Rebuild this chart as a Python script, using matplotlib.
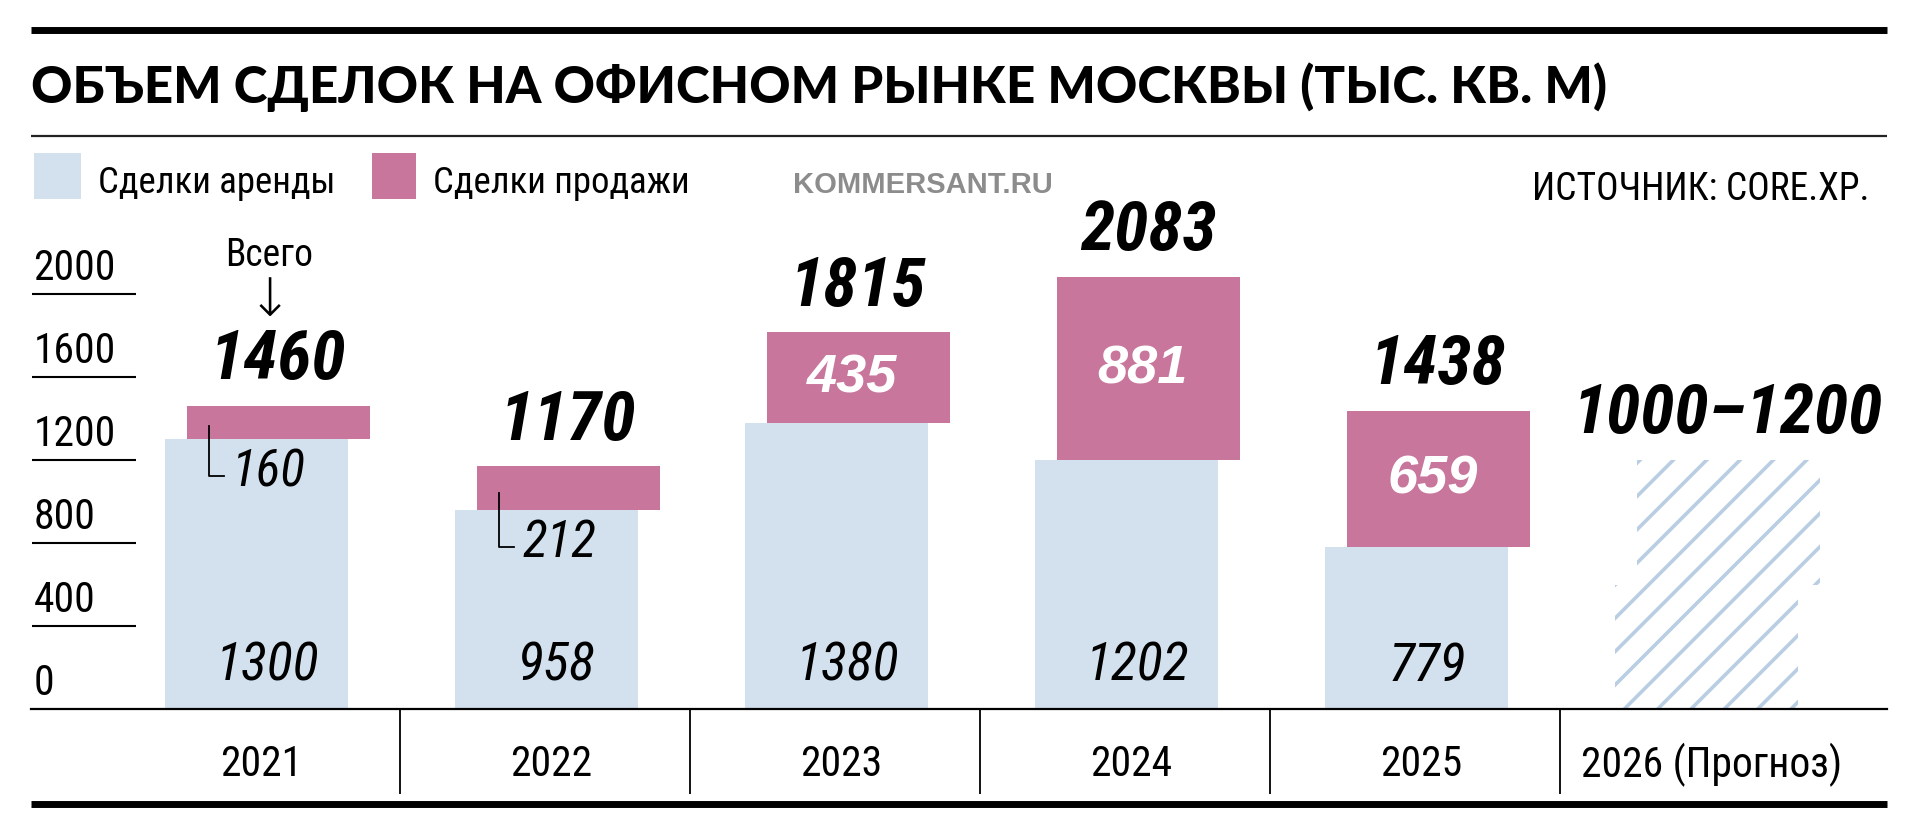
import matplotlib
matplotlib.use("Agg")
import matplotlib.pyplot as plt
from matplotlib import font_manager as fm
from matplotlib.lines import Line2D
from matplotlib.patches import Rectangle

# данные
years = ["2021", "2022", "2023", "2024", "2025", "2026 (Прогноз)"]
lease = [1300, 958, 1380, 1202, 779]
sale = [160, 212, 435, 881, 659]
totals = [1460, 1170, 1815, 2083, 1438]
forecast_split = 600
forecast_top = 1200
forecast_label = "1000–1200"
yticks = [0, 400, 800, 1200, 1600, 2000]

BLUE = "#d3e1ee"
PINK = "#c8769c"
HATCH = "#b9cde3"

avail = {f.name for f in fm.fontManager.ttflist}


def first(*names):
    for n in names:
        if n in avail:
            return n
    return "DejaVu Sans"


NARROW = first("Roboto Condensed", "Liberation Sans Narrow", "Open Sans Condensed", "Liberation Sans")
SANS = first("Liberation Sans", "Roboto", "DejaVu Sans")
HEAVY = first("Lato", "Inter", "Liberation Sans", "DejaVu Sans")

plt.rcParams["hatch.linewidth"] = 2.6

W, H = 1920, 837
fig = plt.figure(figsize=(W / 100, H / 100), dpi=100)


def fx(x):
    return x / W


def fy(y):
    return 1 - y / H


# область графика: 290 px на категорию, 0.2075 px на единицу
x0, x1 = -0.814, 5.586
ax = fig.add_axes([fx(31), fy(710), (1887 - 31) / W, 2400 * 0.2075 / H])
ax.set_xlim(x0, x1)
ax.set_ylim(0, 2400)
ax.axis("off")

bw = 0.631
off_l, off_s = -0.035, 0.038
xs = list(range(len(lease)))

ax.bar([x + off_l for x in xs], lease, width=bw, color=BLUE, lw=0)
ax.bar([x + off_s for x in xs], sale, bottom=lease, width=bw, color=PINK, lw=0)

# прогноз
xf = len(lease)
ax.bar(xf + off_l, forecast_split, width=bw, facecolor="white", edgecolor=HATCH, hatch="/", lw=0)
ax.bar(xf + off_s, forecast_top - forecast_split, bottom=forecast_split, width=bw,
       facecolor="white", edgecolor=HATCH, hatch="/", lw=0)

nums = [NARROW, "DejaVu Sans"]
big = 50

for i in xs:
    ax.text(i, 212, str(lease[i]), ha="center", va="center", fontsize=39,
            style="italic", family=nums)
    ax.text(i + off_s, totals[i] + 222, str(totals[i]), ha="center", va="center",
            fontsize=big, style="italic", weight="bold", family=nums)
    if sale[i] < 300:
        xl = i - 0.2
        ax.plot([xl, xl, i - 0.15], [lease[i] + 0.4 * sale[i], lease[i] - 175, lease[i] - 175],
                color="black", lw=1.3)
        ax.text(i - 0.12, lease[i] - 155, str(sale[i]), ha="left", va="center", fontsize=37,
                style="italic", family=nums)
    else:
        ax.text(i + off_s - 0.02, lease[i] + sale[i] / 2, str(sale[i]), ha="center", va="center",
                fontsize=39, style="italic", weight="bold", color="white",
                family=[SANS, "DejaVu Sans"])

ax.text(xf + off_s, forecast_top + 222, forecast_label, ha="center", va="center", fontsize=big,
        style="italic", weight="bold", family=nums)

# "Всего" со стрелкой
ax.text(off_s - 0.03, 2188, "Всего", ha="center", va="center", fontsize=27, family=nums)
ax.text(off_s - 0.03, 1968, "↓", ha="center", va="center", fontsize=38,
        family=["DejaVu Sans"], weight="light")

# шкала слева
ax.hlines(yticks[1:], x0 + 0.003, -0.452, color="black", lw=1.5)
for t in yticks:
    ax.text(x0 + 0.008, t + 70, str(t), ha="left", va="baseline", fontsize=30, family=nums)

# ось и подписи лет
ax.axhline(0, color="black", lw=1.6, clip_on=False)
ax.vlines([i + 0.46 for i in range(len(years) - 1)], -410, 0, color="black", lw=1.3, clip_on=False)
for i, y in enumerate(years):
    ax.text(i - 0.02, -265, y, ha="center", va="center", fontsize=30, family=nums)
ax.plot([x0, x1], [-460, -460], color="black", lw=5, clip_on=False, solid_capstyle="butt")

# шапка
fig.add_artist(Line2D([fx(31), fx(1887)], [fy(30.5), fy(30.5)], color="black", lw=5,
                      solid_capstyle="butt"))
fig.add_artist(Line2D([fx(31), fx(1887)], [fy(137), fy(137)], color="#222222", lw=1.6,
                      solid_capstyle="butt"))

title = fig.text(fx(31), fy(103), "ОБЪЕМ СДЕЛОК НА ОФИСНОМ РЫНКЕ МОСКВЫ (ТЫС. КВ. М)",
                 ha="left", va="baseline", fontsize=38, weight="black",
                 family=[HEAVY, "DejaVu Sans"])
fig.canvas.draw()
tw = title.get_window_extent().width
title.set_fontsize(38 * 1573 / tw)

fig.add_artist(Rectangle((fx(34), fy(200)), 47 / W, 46 / H, color=BLUE, lw=0))
fig.add_artist(Rectangle((fx(372), fy(200)), 44 / W, 46 / H, color=PINK, lw=0))
fig.text(fx(98), fy(193), "Сделки аренды", ha="left", va="baseline", fontsize=26.5,
         family=nums)
fig.text(fx(433), fy(193), "Сделки продажи", ha="left", va="baseline", fontsize=26.5,
         family=nums)
fig.text(fx(793), fy(193), "KOMMERSANT.RU", ha="left", va="baseline", fontsize=21,
         weight="bold", color="#8c8c8c", family=[SANS, "DejaVu Sans"])
fig.text(fx(1869), fy(200), "ИСТОЧНИК: CORE.XP.", ha="right", va="baseline", fontsize=27,
         family=nums)

fig.savefig("out.png", dpi=100, facecolor="white")
